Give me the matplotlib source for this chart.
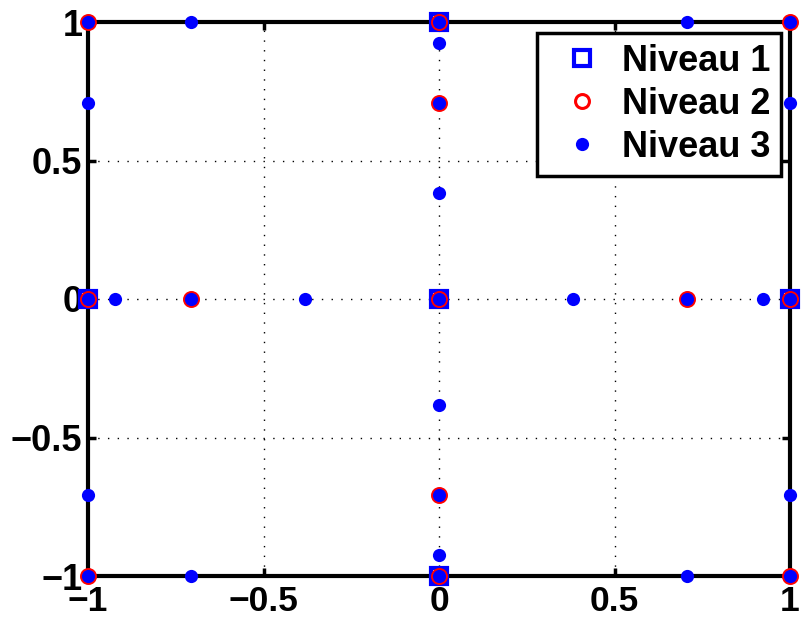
import matplotlib.pyplot as plt

plt.rcParams['font.family'] = ['Liberation Sans', 'DejaVu Sans']
plt.rcParams['font.weight'] = 'bold'

# Niveau 1 points
n1_x = [0, -1, 1, 0, 0]
n1_y = [0, 0, 0, 1, -1]

# Niveau 2 points
n2_x = [0, -1, 1, 0, 0, -1, -1, 1, 1, 0, 0, -0.7071, 0.7071]
n2_y = [0, 0, 0, 1, -1, -1, 1, -1, 1, -0.7071, 0.7071, 0, 0]

# Niveau 3 points
n3_x = [0, -1, 1, 0, 0, -1, -1, 1, 1, 0, 0, -0.7071, 0.7071,
        -1, -1, 1, 1, -0.7071, 0.7071, -0.7071, 0.7071,
        0, 0, 0, 0, -0.9239, -0.3827, 0.3827, 0.9239]
n3_y = [0, 0, 0, 1, -1, -1, 1, -1, 1, -0.7071, 0.7071, 0, 0,
        -0.7071, 0.7071, -0.7071, 0.7071, -1, -1, 1, 1,
        -0.9239, -0.3827, 0.3827, 0.9239, 0, 0, 0, 0]

ticks = [-1, -0.5, 0, 0.5, 1]
tick_labels = ['\u22121', '\u22120.5', '0', '0.5', '1']

fig = plt.figure(figsize=(8.01, 6.18), dpi=100)
ax = fig.add_axes([88 / 801, (618 - 576) / 618, (790 - 88) / 801, (576 - 22) / 618])

ax.plot(n1_x, n1_y, 's', ms=12, mew=3, mfc='none', mec='blue',
        linestyle='none', label='Niveau 1', clip_on=False, zorder=3)
ax.plot(n2_x, n2_y, 'o', ms=10, mew=2.2, mfc='none', mec='red',
        linestyle='none', label='Niveau 2', clip_on=False, zorder=4)
ax.plot(n3_x, n3_y, 'o', ms=9.5, mew=0, color='blue',
        linestyle='none', label='Niveau 3', clip_on=False, zorder=5)

ax.set_xlim(-1, 1)
ax.set_ylim(-1, 1)
ax.set_xticks(ticks)
ax.set_xticklabels(tick_labels)
ax.set_yticks(ticks)
ax.set_yticklabels(tick_labels)
ax.tick_params(direction='in', length=6, width=2.5, labelsize=26,
               top=True, right=True)
ax.tick_params(axis='x', pad=6.5, labelsize=25.5)
ax.tick_params(axis='y', pad=4)
for lbl in ax.get_xticklabels() + ax.get_yticklabels():
    lbl.set_fontweight('bold')
for s in ax.spines.values():
    s.set_linewidth(3)
ax.grid(True, color='black', linestyle=(0, (1, 6)), linewidth=1)

leg = ax.legend(loc='upper right', bbox_to_anchor=(0.987, 0.980),
                prop={'weight': 'bold', 'size': 26}, fancybox=False,
                framealpha=1, edgecolor='black', borderpad=0.3,
                borderaxespad=0, labelspacing=0.22, handletextpad=0.14,
                handlelength=1.9)
leg.get_frame().set_linewidth(2.5)

fig.savefig('out.png', dpi=100)
